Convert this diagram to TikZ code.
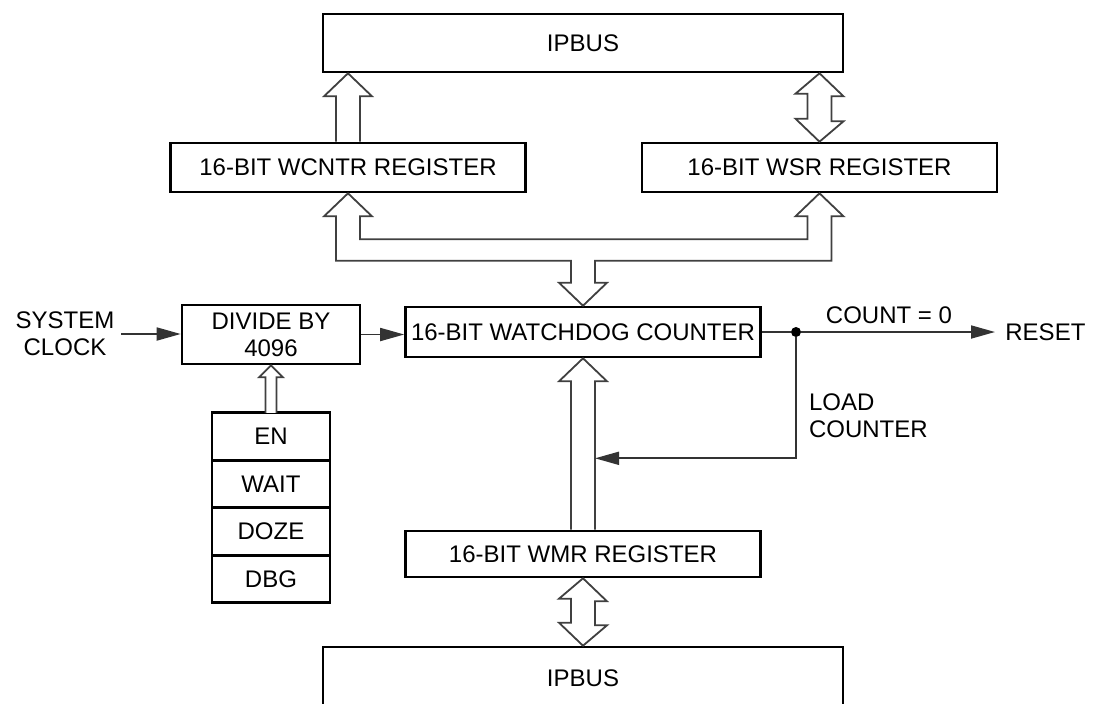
\documentclass[tikz,border=0pt]{standalone}
\usepackage{fontspec}
\setmainfont{Liberation Sans}
\usetikzlibrary{arrows.meta,calc,positioning}
\begin{document}
\begin{tikzpicture}[x=0.5pt,y=-0.5pt,
  font=\fontsize{12}{13.5}\selectfont,
  box/.style={draw,line width=1.3pt,inner sep=0pt,minimum width=177.5pt,minimum height=24.5pt},
  bitbox/.style={box,outer sep=0pt,minimum width=59pt,minimum height=23.75pt},
  hollow/.style={draw=black!75,line width=0.9pt,fill=white,line join=miter},
  sig/.style={draw=black!80,line width=0.9pt},
  tip/.style={-{Triangle[length=12pt,width=6.5pt]}}]
\useasboundingbox (0,0) rectangle (1093,703);
\node[box,minimum width=260pt,minimum height=29pt] (ipbustop) at (583,43) {IPBUS};
\node[box] (wcntr) at (348,167.5) {16-BIT WCNTR REGISTER};
\node[box] (wsr) at (819.5,167.5) {16-BIT WSR REGISTER};
\node[box,minimum height=25pt] (counter) at (583,332) {16-BIT WATCHDOG COUNTER};
\node[box,minimum width=89pt,minimum height=29.5pt,align=center] (divide) at (271,334.5) {DIVIDE BY\\4096};
\node[bitbox] (en) at (271,436.5) {EN};
\node[bitbox,below=0pt of en] (wait) {WAIT};
\node[bitbox,below=0pt of wait] (doze) {DOZE};
\node[bitbox,below=0pt of doze] (dbg) {DBG};
\node[box,minimum height=23pt] (wmr) at (583,554) {16-BIT WMR REGISTER};
\node[box,minimum width=260pt,minimum height=31pt] (ipbusbot) at (583,678) {IPBUS};
\node[align=center] (sysclk) at (65,334) {SYSTEM\\CLOCK};
\node[fill,circle,inner sep=0pt,minimum size=5pt] (dot) at (796,332) {};
\node[anchor=west,inner sep=5pt] (reset) at (995,332) {RESET};
\node (count) at (889,315) {COUNT = 0};
\node[anchor=west,align=left] (load) at (802,416) {LOAD\\COUNTER};
\coordinate (shaftr) at ($(counter.south)+(12,100)$);

\draw[hollow] ($(wcntr.north)+(-12,0)$) -- ($(wcntr.north |- ipbustop.south)+(-12,23)$) -- ++(-12,0)
  -- (wcntr.north |- ipbustop.south) -- ++(24,23) -- ++(-12,0) -- ($(wcntr.north)+(12,0)$);
\draw[hollow] (wsr.north |- ipbustop.south) -- ++(24,23) -- ++(-12,0) -- ++(0,25) -- ++(12,0)
  -- (wsr.north) -- ++(-24,-23) -- ++(12,0) -- ++(0,-25) -- ++(-12,0) -- cycle;
\draw[hollow] (wcntr.south) -- ++(24,23) -- ++(-12,0) |- ($(wsr.south)+(-12,46)$) -- ++(0,-23) -- ++(-12,0)
  -- (wsr.south) -- ++(24,23) -- ++(-12,0) |- ($(counter.north)+(12,-45)$) -- ++(0,22) -- ++(12,0)
  -- (counter.north) -- ++(-24,-23) -- ++(12,0) -- ++(0,-22) -| ($(wcntr.south)+(-12,23)$) -- ++(-12,0) -- cycle;
\draw[hollow] ($(wmr.north)+(-12,0)$) -- ($(counter.south)+(-12,23)$) -- ++(-12,0)
  -- (counter.south) -- ++(24,23) -- ++(-12,0) -- ($(wmr.north)+(12,0)$);
\draw[hollow] (wmr.south) -- ++(24,23) -- ++(-12,0) -- ++(0,24) -- ++(12,0)
  -- (ipbusbot.north) -- ++(-24,-23) -- ++(12,0) -- ++(0,-24) -- ++(-12,0) -- cycle;
\draw[hollow] ($(en.north)+(-5.5,0)$) -- ($(divide.south)+(-5.5,12)$) -- ++(-6.5,0)
  -- (divide.south) -- ++(12,12) -- ++(-6.5,0) -- ($(en.north)+(5.5,0)$);

\draw[sig,tip] (sysclk.east) -- (sysclk.east -| divide.west);
\draw[sig,tip] (divide.east) -- (divide.east -| counter.west);
\draw[sig] (counter.east) -- (dot);
\draw[sig,tip] (dot) -- (reset.west);
\draw[sig,tip] (dot) |- (shaftr);
\end{tikzpicture}
\end{document}
